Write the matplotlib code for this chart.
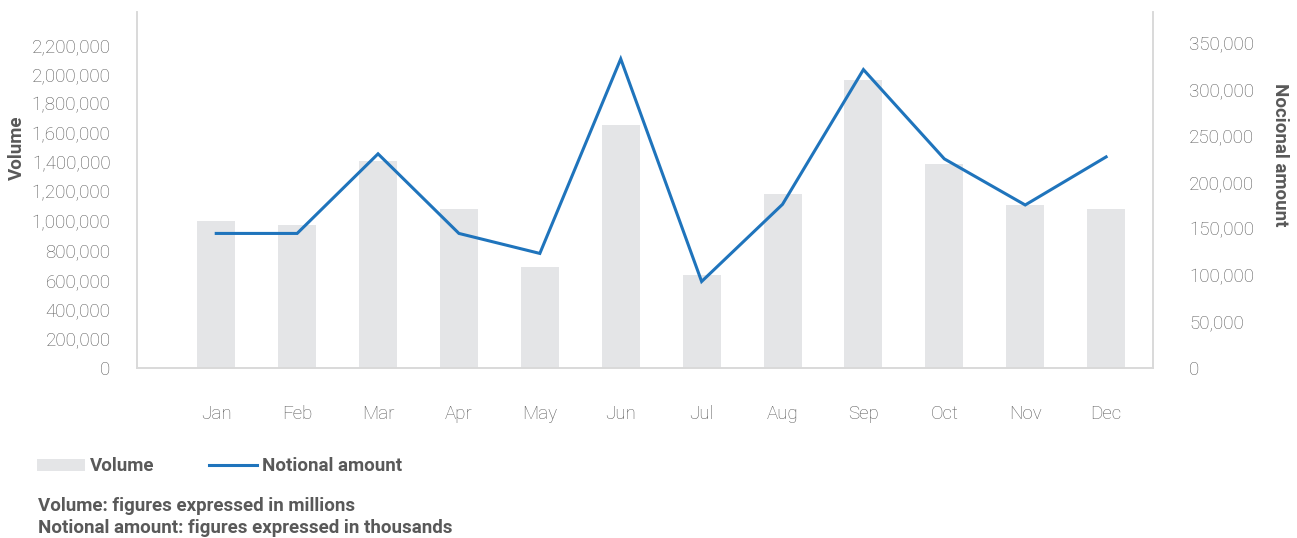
import numpy as np
import matplotlib.pyplot as plt
from matplotlib.patches import Patch
from matplotlib.lines import Line2D
from matplotlib.ticker import FuncFormatter

plt.rcParams['font.family'] = ['Roboto', 'DejaVu Sans']

months = ['Jan', 'Feb', 'Mar', 'Apr', 'May', 'Jun',
          'Jul', 'Aug', 'Sep', 'Oct', 'Nov', 'Dec']
volume = [1000000, 972000, 1410000, 1080000, 688000, 1654000,
          631000, 1184000, 1960000, 1388000, 1108000, 1080000]
notional = [144700, 144700, 230300, 144700, 123200, 332400,
            93000, 176000, 320900, 224900, 175300, 227000]

text_grey = '#595959'
bar_grey = '#E4E5E7'
line_blue = '#1F74BC'
spine_grey = '#D9D9D9'

fig = plt.figure(figsize=(12.97, 5.38), dpi=100)
ax = fig.add_axes([0.1056, 0.316, 0.7834, 0.662])
ax2 = ax.twinx()

x = np.arange(len(months))
ax.bar(x, volume, width=0.47, color=bar_grey, zorder=1)
ax2.plot(x, notional, color=line_blue, lw=2.2, solid_joinstyle='miter', zorder=3)

ax.set_xlim(-0.98, 11.58)
ax.set_ylim(0, 2425000)
ax2.set_ylim(0, 383000)
ax.set_yticks(np.arange(0, 2200001, 200000))
ax2.set_yticks(np.arange(0, 350001, 50000))
ax.set_xticks(x)
ax.set_xticklabels(months)

fmt = FuncFormatter(lambda v, p: f'{int(v):,}')
ax.yaxis.set_major_formatter(fmt)
ax2.yaxis.set_major_formatter(fmt)

for a in (ax, ax2):
    a.tick_params(length=0, labelsize=13.5, labelcolor=text_grey)
    for lbl in a.get_xticklabels() + a.get_yticklabels():
        lbl.set_fontweight('light')
    a.spines['top'].set_visible(False)
    for s in ('left', 'right', 'bottom'):
        a.spines[s].set_color(spine_grey)
        a.spines[s].set_linewidth(1.2)

ax.tick_params(axis='x', pad=27)
ax.tick_params(axis='y', pad=19)
ax2.tick_params(axis='y', pad=26)
ax.set_zorder(ax2.get_zorder() - 1)
ax.patch.set_visible(True)
ax2.patch.set_visible(False)

fig.text(0.013, 0.725, 'Volume', rotation=90, ha='center', va='center',
         fontsize=13.5, fontweight='bold', color=text_grey)
fig.text(0.987, 0.712, 'Nocional amount', rotation=-90, ha='center', va='center',
         fontsize=13.5, fontweight='bold', color=text_grey)

handles = [Patch(facecolor=bar_grey, edgecolor='none'),
           Line2D([0], [0], color=line_blue, lw=2.2)]
fig.legend(handles, ['Volume', 'Notional amount'], loc='center left',
           bbox_to_anchor=(0.0154, 0.133), ncol=2, frameon=False,
           handlelength=2.56, handleheight=0.6, handletextpad=0.27,
           columnspacing=2.9, prop={'size': 13.5, 'weight': 'bold'},
           labelcolor=text_grey)

fig.text(0.029, 0.059, 'Volume: figures expressed in millions',
         fontsize=13.5, fontweight='bold', color=text_grey, va='center')
fig.text(0.029, 0.018, 'Notional amount: figures expressed in thousands',
         fontsize=13.5, fontweight='bold', color=text_grey, va='center')

fig.savefig('out.png', dpi=100)
